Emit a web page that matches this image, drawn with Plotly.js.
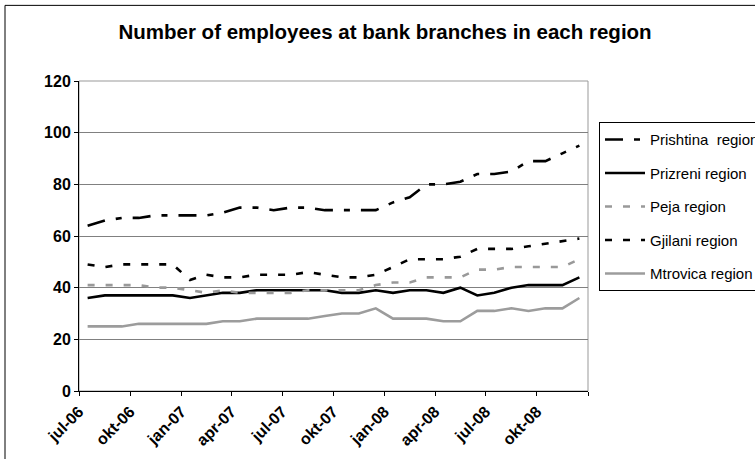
<!DOCTYPE html>
<html>
<head>
<meta charset="utf-8">
<script src="https://cdn.plot.ly/plotly-3.0.1.min.js"></script>
<style>html,body{margin:0;padding:0;background:#fff}#chart{width:755px;height:459px}</style>
</head>
<body>
<div id="chart"></div>
<script>
const months = ["2006-07","2006-08","2006-09","2006-10","2006-11","2006-12",
  "2007-01","2007-02","2007-03","2007-04","2007-05","2007-06",
  "2007-07","2007-08","2007-09","2007-10","2007-11","2007-12",
  "2008-01","2008-02","2008-03","2008-04","2008-05","2008-06",
  "2008-07","2008-08","2008-09","2008-10","2008-11","2008-12"];
const prishtina = [64,66,67,67,68,68,68,68,69,71,71,70,71,71,70,70,70,70,73,75,80,80,81,84,84,85,89,89,92,95];
const prizreni  = [36,37,37,37,37,37,36,37,38,38,39,39,39,39,39,38,38,39,38,39,39,38,40,37,38,40,41,41,41,44];
const peja      = [41,41,41,41,40,40,39,38,39,38,38,38,38,39,39,39,39,41,42,42,44,44,44,47,47,48,48,48,48,51];
const gjilani   = [49,48,49,49,49,49,43,45,44,44,45,45,45,46,45,44,44,45,48,51,51,51,52,55,55,55,56,57,58,59];
const mtrovica  = [25,25,25,26,26,26,26,26,27,27,28,28,28,28,29,30,30,32,28,28,28,27,27,31,31,32,31,32,32,36];
const tickVals = ["2006-07-01","2006-10-01","2007-01-01","2007-04-01","2007-07-01","2007-10-01",
  "2008-01-01","2008-04-01","2008-07-01","2008-10-01","2009-01-01"];
const tickText = ["jul-06","okt-06","jan-07","apr-07","jul-07","okt-07","jan-08","apr-08","jul-08","okt-08",""];
const yTicks = [0,20,40,60,80,100,120];
const names = ["Prishtina  region","Prizreni region","Peja region","Gjilani region","Mtrovica region"];

const FONT = "Arial, 'Liberation Sans', sans-serif";
function tr(y, name, color, dash, g) {
  return {x: months, y: y, name: name, type: "scatter", mode: "lines",
    xperiod: "M1", xperiodalignment: "middle", legendgroup: g,
    line: {color: color, width: 2.6, dash: dash}};
}
const data = [
  tr(prishtina, names[0], "#000000", "18px,11px,6px,11px", "a"),
  tr(prizreni,  names[1], "#000000", "solid", "b"),
  tr(peja,      names[2], "#999999", "7px,11px", "c"),
  tr(gjilani,   names[3], "#000000", "7px,11px", "d"),
  tr(mtrovica,  names[4], "#9c9c9c", "solid", "e")
];
const layout = {
  width: 755, height: 459,
  margin: {l: 79, r: 167, t: 81, b: 68, autoexpand: false},
  paper_bgcolor: "#ffffff", plot_bgcolor: "#ffffff",
  font: {family: FONT, color: "#000"},
  title: {text: "<b>Number of employees at bank branches in each region</b>",
    font: {family: FONT, size: 20.5, color: "#000"},
    x: 0.51, xref: "container", xanchor: "center", y: 1 - 32/459, yref: "container", yanchor: "middle"},
  xaxis: {type: "date", range: ["2006-07-01","2009-01-01"], tickmode: "array",
    tickvals: tickVals, ticktext: tickText.map(t => t ? "<b>" + t + "</b>" : ""), tickangle: -45,
    tickfont: {family: FONT, size: 16, color: "#000"},
    showgrid: false, showline: true, linecolor: "#000", linewidth: 1,
    ticks: "outside", ticklen: 4, tickcolor: "#000", zeroline: false, fixedrange: true},
  yaxis: {range: [0, 120], tickmode: "array", tickvals: yTicks,
    ticktext: yTicks.map(v => "<b>" + v + "</b>"),
    tickfont: {family: FONT, size: 16, color: "#000"},
    showgrid: true, gridcolor: "#808080", gridwidth: 1,
    showline: true, linecolor: "#000", linewidth: 1,
    ticks: "outside", ticklen: 4, tickcolor: "#000", zeroline: false, fixedrange: true},
  legend: {x: (599-79)/509, xanchor: "left", y: (391-122)/310.3, yanchor: "top",
    bordercolor: "#000", borderwidth: 1, bgcolor: "#fff",
    font: {family: FONT, size: 15, color: "#000"},
    traceorder: "grouped", tracegroupgap: 11, itemwidth: 40},
  shapes: [
    {type: "rect", xref: "paper", yref: "paper", x0: 0, x1: 1, y0: 0, y1: 1,
     line: {color: "#999999", width: 1}, layer: "below"},
    {type: "rect", xref: "paper", yref: "paper", x0: (5-79)/509, x1: 1.5, y0: -0.5, y1: (391-5)/310.3,
     line: {color: "#000", width: 1}, layer: "below"}
  ],
  showlegend: true
};
Plotly.newPlot("chart", data, layout, {staticPlot: true, displayModeBar: false});
</script>
</body>
</html>
